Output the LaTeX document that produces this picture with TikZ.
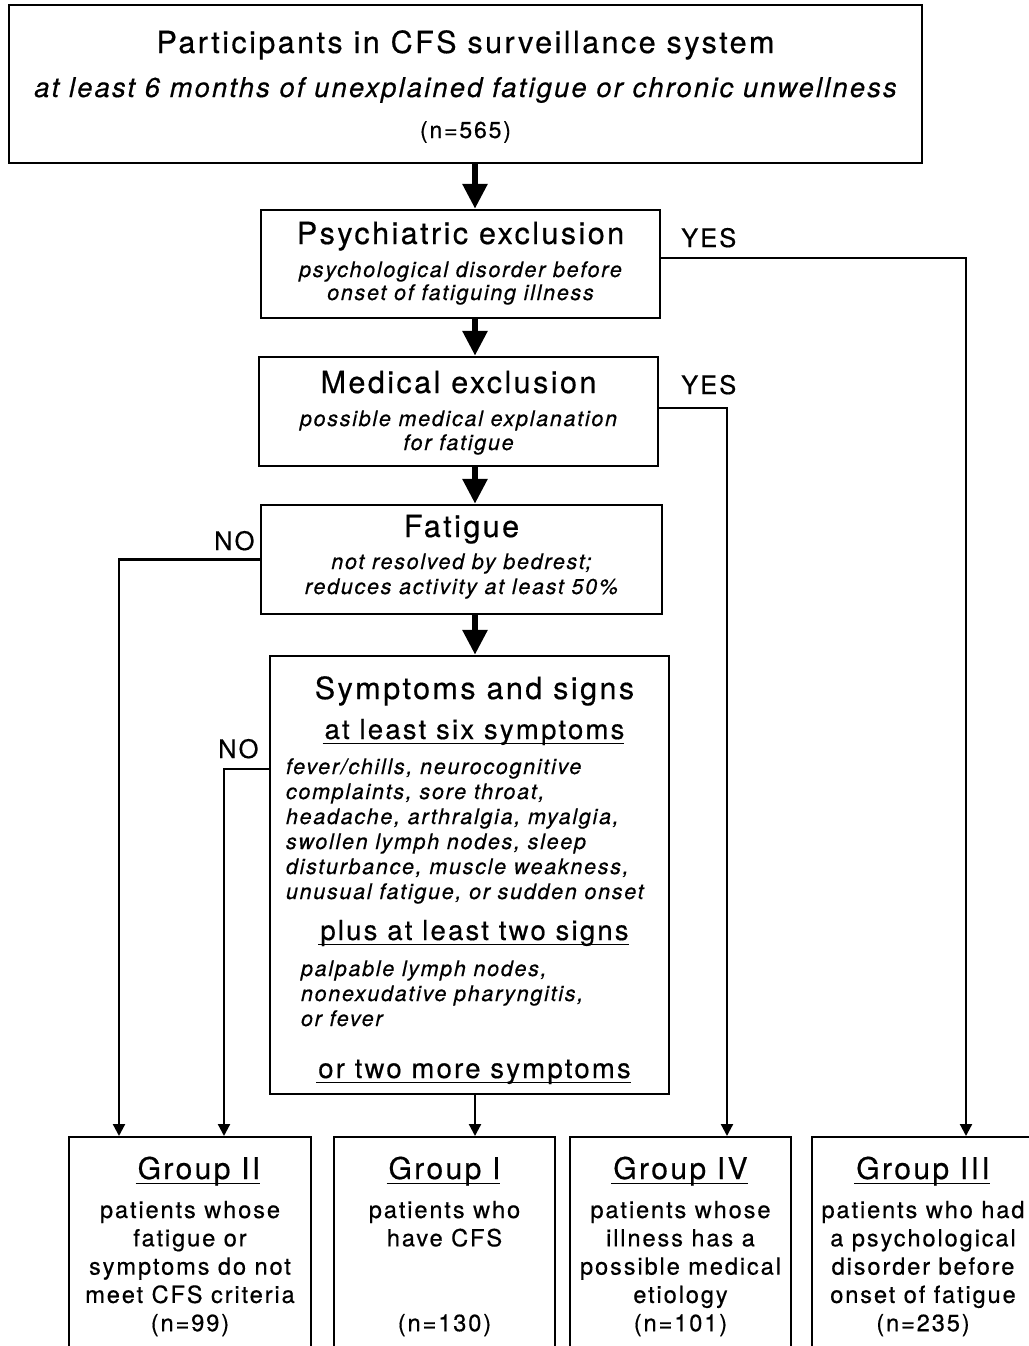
\documentclass[tikz,border=0pt]{standalone}
\usepackage{fontspec}
\setmainfont{TeX Gyre Heros}[LetterSpace=8, FakeBold=0.5]
\usetikzlibrary{arrows.meta}
\usetikzlibrary{positioning}

\newcommand\fsz[2]{\fontsize{#1}{#2}\selectfont}
\newlength\grplinewd
\newcommand\grpline[1]{\settowidth{\grplinewd}{#1}%
    \makebox[0pt][l]{\hspace*{-2pt}\rule[-5pt]{\dimexpr\grplinewd+2pt\relax}{1.2pt}}#1}
\newcommand\symrow[1]{\makebox[367pt][l]{#1}}
\newcommand\signrow[1]{\makebox[337pt][l]{#1}}
\newcommand\symhd[1]{\hspace*{10pt}#1}

\tikzset{
    stagebox/.style={draw=black, line width=2.5pt, align=center, inner sep=0pt, anchor=base},
    groupbox/.style={draw=black, line width=2pt, align=center, inner sep=0pt, anchor=base,
        minimum width=#1, text height=194.2pt, text depth=38.8pt, font=\fsz{23.6}{28.3}},
    mainflow/.style={draw=black, line width=6pt, -{Triangle[width=24pt,length=25pt]}},
    branchend/.style={draw=black, line width=2.2pt, -{Triangle[width=12pt,length=12pt]}},
    answer/.style={anchor=base west, inner sep=0pt, font=\fsz{25.5}{30}},
}

\begin{document}
\begin{tikzpicture}[x=1pt, y=-1pt]
    \useasboundingbox (0,0) rectangle (1028,1346);
    \coordinate (spine) at (475,0);
    \coordinate (psychdrop) at (966,0);
    \coordinate (meddrop) at (727,0);
    \coordinate (fatdrop) at (119,0);
    \coordinate (symdrop) at (224,0);

    % screening stages (anchored on the last line)
    \node[stagebox, minimum width=913pt, text height=133pt, text depth=25pt,
        font=\fsz{27.3}{41}] (cfs) at (465.5,138)
        {\fsz{30.5}{41}Participants in CFS surveillance system\\[3pt]
        \itshape at least 6 months of unexplained fatigue or chronic unwellness\\
        \fsz{23}{41}(n=565)};
    \node[stagebox, minimum width=399pt, text height=90pt, text depth=18pt,
        font=\fsz{21.5}{23}\itshape] (psych) at (460.5,300)
        {\upshape\fsz{30.5}{23}Psychiatric exclusion\\[10pt]
        psychological disorder before\\
        onset of fatiguing illness};
    \node[stagebox, minimum width=399pt, text height=93pt, text depth=16pt,
        font=\fsz{21.5}{24}\itshape] (med) at (458.5,450)
        {\upshape\fsz{30.5}{24}Medical exclusion\\[9pt]
        possible medical explanation\\
        for fatigue};
    \node[stagebox, minimum width=401pt, text height=89pt, text depth=20pt,
        font=\fsz{21.5}{25}\itshape] (fat) at (461.5,594)
        {\upshape\fsz{30.5}{25}Fatigue\\[7pt]
        not resolved by bedrest;\\
        reduces activity at least 50\%};
    \node[stagebox, minimum width=399pt, text height=422pt, text depth=16pt,
        font=\fsz{21.5}{30}] (sym) at (469.5,1078)
        {\symhd{\fsz{30.5}{30}Symptoms and signs}\\[10pt]
        \symhd{\fsz{27.5}{30}\grpline{at least six symptoms}}\\[5pt]
        \symrow{\itshape fever/chills, neurocognitive}\\[-5pt]
        \symrow{\itshape complaints, sore throat,}\\[-5pt]
        \symrow{\itshape headache, arthralgia, myalgia,}\\[-5pt]
        \symrow{\itshape swollen lymph nodes, sleep}\\[-5pt]
        \symrow{\itshape disturbance, muscle weakness,}\\[-5pt]
        \symrow{\itshape unusual fatigue, or sudden onset}\\[11pt]
        \symhd{\fsz{27.5}{30}\grpline{plus at least two signs}}\\[6pt]
        \signrow{\itshape palpable lymph nodes,}\\[-5pt]
        \signrow{\itshape nonexudative pharyngitis,}\\[-5pt]
        \signrow{\itshape or fever}\\[22pt]
        \symhd{\fsz{27.5}{30}\grpline{or two more symptoms}}};

    % outcome groups (anchored on the n= line)
    \node[groupbox=242pt] (grpii) at (190,1331.2)
        {\hspace*{18pt}\fsz{30}{28.3}\grpline{Group II}\\[10.7pt]
        patients whose\\ fatigue or\\ symptoms do not\\ meet CFS criteria\\ (n=99)};
    \node[groupbox=221pt] (grpi) at (444.5,1331.2)
        {\fsz{30}{28.3}\grpline{Group I}\\[10.7pt]
        patients who\\ have CFS\\[56.6pt] (n=130)};
    \node[groupbox=221pt] (grpiv) at (680.5,1331.2)
        {\fsz{30}{28.3}\grpline{Group IV}\\[10.7pt]
        patients whose\\ illness has a\\ possible medical\\ etiology\\ (n=101)};
    \node[groupbox=222pt] (grpiii) at (923,1331.2)
        {\fsz{30}{28.3}\grpline{Group III}\\[10.7pt]
        patients who had\\ a psychological\\ disorder before\\ onset of fatigue\\ (n=235)};

    % main flow
    \draw[mainflow] (cfs.south -| spine) -- (psych.north -| spine);
    \draw[mainflow] (psych.south -| spine) -- (med.north -| spine);
    \draw[mainflow] (med.south -| spine) -- (fat.north -| spine);
    \draw[mainflow] (fat.south -| spine) -- (sym.north -| spine);
    \draw[branchend] (sym.south -| spine) -- (grpi.north -| spine);

    % exits
    \draw[branchend] ([yshift=6pt]psych.east) -| (grpiii.north -| psychdrop);
    \draw[branchend] ([yshift=3.5pt]med.east) -| (grpiv.north -| meddrop);
    \draw[branchend] (fat.west) -| (grpii.north -| fatdrop);
    \draw[branchend] ([yshift=-114pt]sym.north west) -| (grpii.north -| symdrop);

    \node[answer] (yespsych) at (681,247) {YES};
    \node[answer] (yesmed) at (681,394) {YES};
    \node[answer] (nofat) at (214,550) {NO};
    \node[answer] (nosym) at (218,758) {NO};
\end{tikzpicture}
\end{document}
